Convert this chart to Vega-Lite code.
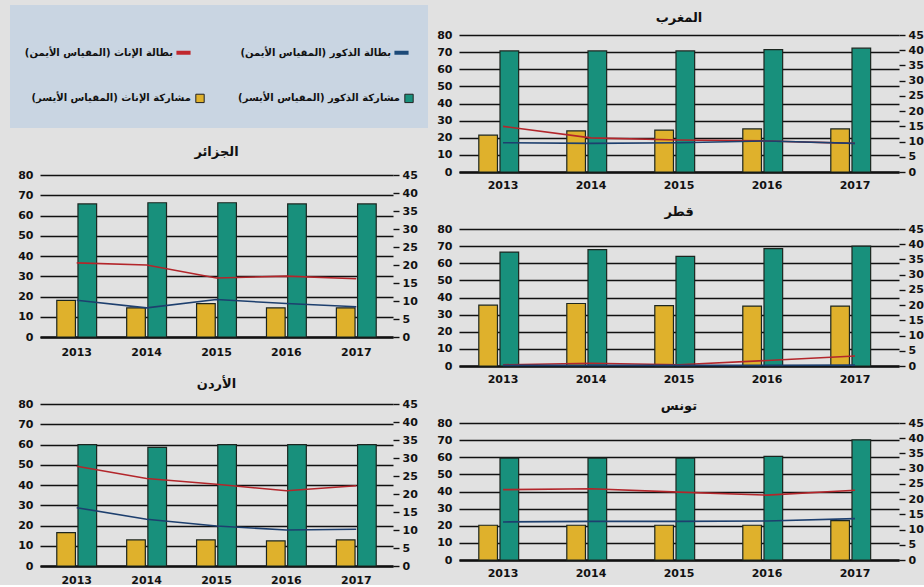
{
  "$schema": "https://vega.github.io/schema/vega-lite/v6.json",
  "background": "#e1e1e1",
  "padding": {"left": 10, "top": 5, "right": 4, "bottom": 0},
  "data": {"values": [
    {"country": "المغرب", "year": "2013", "مشاركة الإناث (المقياس الأيسر)": 21.5, "مشاركة الذكور (المقياس الأيسر)": 70.7, "بطالة الإناث (المقياس الأيمن)": 15.0, "بطالة الذكور (المقياس الأيمن)": 9.6},
    {"country": "المغرب", "year": "2014", "مشاركة الإناث (المقياس الأيسر)": 24.0, "مشاركة الذكور (المقياس الأيسر)": 70.7, "بطالة الإناث (المقياس الأيمن)": 11.2, "بطالة الذكور (المقياس الأيمن)": 9.4},
    {"country": "المغرب", "year": "2015", "مشاركة الإناث (المقياس الأيسر)": 24.5, "مشاركة الذكور (المقياس الأيسر)": 70.7, "بطالة الإناث (المقياس الأيمن)": 10.5, "بطالة الذكور (المقياس الأيمن)": 9.6},
    {"country": "المغرب", "year": "2016", "مشاركة الإناث (المقياس الأيسر)": 25.2, "مشاركة الذكور (المقياس الأيسر)": 71.5, "بطالة الإناث (المقياس الأيمن)": 10.2, "بطالة الذكور (المقياس الأيمن)": 10.2},
    {"country": "المغرب", "year": "2017", "مشاركة الإناث (المقياس الأيسر)": 25.2, "مشاركة الذكور (المقياس الأيسر)": 72.3, "بطالة الإناث (المقياس الأيمن)": 9.4, "بطالة الذكور (المقياس الأيمن)": 9.4},
    {"country": "قطر", "year": "2013", "مشاركة الإناث (المقياس الأيسر)": 35.5, "مشاركة الذكور (المقياس الأيسر)": 66.5, "بطالة الإناث (المقياس الأيمن)": 0.4, "بطالة الذكور (المقياس الأيمن)": 0.2},
    {"country": "قطر", "year": "2014", "مشاركة الإناث (المقياس الأيسر)": 36.5, "مشاركة الذكور (المقياس الأيسر)": 68.0, "بطالة الإناث (المقياس الأيمن)": 0.9, "بطالة الذكور (المقياس الأيمن)": 0.2},
    {"country": "قطر", "year": "2015", "مشاركة الإناث (المقياس الأيسر)": 35.2, "مشاركة الذكور (المقياس الأيسر)": 64.0, "بطالة الإناث (المقياس الأيمن)": 0.4, "بطالة الذكور (المقياس الأيمن)": 0.2},
    {"country": "قطر", "year": "2016", "مشاركة الإناث (المقياس الأيسر)": 35.0, "مشاركة الذكور (المقياس الأيسر)": 68.5, "بطالة الإناث (المقياس الأيمن)": 1.8, "بطالة الذكور (المقياس الأيمن)": 0.2},
    {"country": "قطر", "year": "2017", "مشاركة الإناث (المقياس الأيسر)": 35.0, "مشاركة الذكور (المقياس الأيسر)": 70.0, "بطالة الإناث (المقياس الأيمن)": 3.3, "بطالة الذكور (المقياس الأيمن)": 0.3},
    {"country": "تونس", "year": "2013", "مشاركة الإناث (المقياس الأيسر)": 20.3, "مشاركة الذكور (المقياس الأيسر)": 59.5, "بطالة الإناث (المقياس الأيمن)": 23.1, "بطالة الذكور (المقياس الأيمن)": 12.5},
    {"country": "تونس", "year": "2014", "مشاركة الإناث (المقياس الأيسر)": 20.3, "مشاركة الذكور (المقياس الأيسر)": 59.5, "بطالة الإناث (المقياس الأيمن)": 23.4, "بطالة الذكور (المقياس الأيمن)": 12.7},
    {"country": "تونس", "year": "2015", "مشاركة الإناث (المقياس الأيسر)": 20.3, "مشاركة الذكور (المقياس الأيسر)": 59.5, "بطالة الإناث (المقياس الأيمن)": 22.3, "بطالة الذكور (المقياس الأيمن)": 12.7},
    {"country": "تونس", "year": "2016", "مشاركة الإناث (المقياس الأيسر)": 20.3, "مشاركة الذكور (المقياس الأيسر)": 60.5, "بطالة الإناث (المقياس الأيمن)": 21.3, "بطالة الذكور (المقياس الأيمن)": 12.8},
    {"country": "تونس", "year": "2017", "مشاركة الإناث (المقياس الأيسر)": 23.0, "مشاركة الذكور (المقياس الأيسر)": 70.2, "بطالة الإناث (المقياس الأيمن)": 22.9, "بطالة الذكور (المقياس الأيمن)": 13.6},
    {"country": "الجزائر", "year": "2013", "مشاركة الإناث (المقياس الأيسر)": 18.1, "مشاركة الذكور (المقياس الأيسر)": 65.7, "بطالة الإناث (المقياس الأيمن)": 20.6, "بطالة الذكور (المقياس الأيمن)": 10.2},
    {"country": "الجزائر", "year": "2014", "مشاركة الإناث (المقياس الأيسر)": 14.4, "مشاركة الذكور (المقياس الأيسر)": 66.3, "بطالة الإناث (المقياس الأيمن)": 20.0, "بطالة الذكور (المقياس الأيمن)": 8.1},
    {"country": "الجزائر", "year": "2015", "مشاركة الإناث (المقياس الأيسر)": 16.5, "مشاركة الذكور (المقياس الأيسر)": 66.3, "بطالة الإناث (المقياس الأيمن)": 16.4, "بطالة الذكور (المقياس الأيمن)": 10.4},
    {"country": "الجزائر", "year": "2016", "مشاركة الإناث (المقياس الأيسر)": 14.4, "مشاركة الذكور (المقياس الأيسر)": 65.7, "بطالة الإناث (المقياس الأيمن)": 16.9, "بطالة الذكور (المقياس الأيمن)": 9.3},
    {"country": "الجزائر", "year": "2017", "مشاركة الإناث (المقياس الأيسر)": 14.4, "مشاركة الذكور (المقياس الأيسر)": 65.7, "بطالة الإناث (المقياس الأيمن)": 16.2, "بطالة الذكور (المقياس الأيمن)": 8.4},
    {"country": "الأردن", "year": "2013", "مشاركة الإناث (المقياس الأيسر)": 16.5, "مشاركة الذكور (المقياس الأيسر)": 59.9, "بطالة الإناث (المقياس الأيمن)": 27.7, "بطالة الذكور (المقياس الأيمن)": 16.2},
    {"country": "الأردن", "year": "2014", "مشاركة الإناث (المقياس الأيسر)": 12.9, "مشاركة الذكور (المقياس الأيسر)": 58.6, "بطالة الإناث (المقياس الأيمن)": 24.3, "بطالة الذكور (المقياس الأيمن)": 13.0},
    {"country": "الأردن", "year": "2015", "مشاركة الإناث (المقياس الأيسر)": 12.9, "مشاركة الذكور (المقياس الأيسر)": 59.9, "بطالة الإناث (المقياس الأيمن)": 22.7, "بطالة الذكور (المقياس الأيمن)": 11.1},
    {"country": "الأردن", "year": "2016", "مشاركة الإناث (المقياس الأيسر)": 12.4, "مشاركة الذكور (المقياس الأيسر)": 59.9, "بطالة الإناث (المقياس الأيمن)": 20.9, "بطالة الذكور (المقياس الأيمن)": 10.0},
    {"country": "الأردن", "year": "2017", "مشاركة الإناث (المقياس الأيسر)": 12.9, "مشاركة الذكور (المقياس الأيسر)": 59.9, "بطالة الإناث (المقياس الأيمن)": 22.3, "بطالة الذكور (المقياس الأيمن)": 10.2}
  ]},
  "transform": [{"fold": ["مشاركة الإناث (المقياس الأيسر)", "مشاركة الذكور (المقياس الأيسر)", "بطالة الإناث (المقياس الأيمن)", "بطالة الذكور (المقياس الأيمن)"], "as": ["series", "value"]}],
  "spacing": -11,
  "resolve": {"scale": {"fill": "independent", "stroke": "independent"}, "legend": {"fill": "independent", "stroke": "independent"}},
  "hconcat": [
    {
      "spacing": 11,
      "resolve": {"scale": {"fill": "independent", "stroke": "independent"}, "legend": {"fill": "independent", "stroke": "independent"}},
      "vconcat": [
        {
          "width": 358, "height": 63,
          "view": {"fill": "#c9d5e2", "stroke": "#c9d5e2", "strokeWidth": 60},
          "layer": [
            {
              "transform": [{"filter": {"field": "series", "oneOf": ["بطالة الإناث (المقياس الأيمن)", "بطالة الذكور (المقياس الأيمن)"]}}],
              "mark": {"type": "point", "opacity": 0},
              "encoding": {
                "stroke": {"field": "series", "type": "nominal",
                  "scale": {"domain": ["بطالة الإناث (المقياس الأيمن)", "بطالة الذكور (المقياس الأيمن)"], "range": ["#c0272d", "#1d4a78"]},
                  "legend": {"title": null, "orient": "none", "legendX": 134, "legendY": 8, "direction": "horizontal", "columns": 2, "columnPadding": 41,
                    "symbolType": "stroke", "symbolSize": 200, "symbolStrokeWidth": 4, "symbolOpacity": 1,
                    "labelAlign": "right", "labelOffset": -20, "labelFont": "DejaVu Sans", "labelFontSize": 10, "labelFontWeight": "bold", "labelColor": "#111", "labelLimit": 300,
                    "labelExpr": "datum.label + '\u200f'"}
                }
              }
            },
            {
              "transform": [{"filter": {"field": "series", "oneOf": ["مشاركة الإناث (المقياس الأيسر)", "مشاركة الذكور (المقياس الأيسر)"]}}],
              "mark": {"type": "point", "opacity": 0, "filled": true},
              "encoding": {
                "fill": {"field": "series", "type": "nominal",
                  "scale": {"domain": ["مشاركة الإناث (المقياس الأيسر)", "مشاركة الذكور (المقياس الأيسر)"], "range": ["#dfb12c", "#18907c"]},
                  "legend": {"title": null, "orient": "none", "legendX": 155, "legendY": 58, "direction": "horizontal", "columns": 2, "columnPadding": 31,
                    "symbolType": "square", "symbolSize": 70, "symbolStrokeColor": "#222", "symbolStrokeWidth": 1, "symbolOpacity": 1,
                    "labelAlign": "right", "labelOffset": -14, "labelFont": "DejaVu Sans", "labelFontSize": 10, "labelFontWeight": "bold", "labelColor": "#111", "labelLimit": 300,
                    "labelExpr": "datum.label + '\u200f'"}
                }
              }
            }
          ]
        },
        {
          "width": 353, "height": 162,
          "title": {"text": "الجزائر", "offset": 10},
          "transform": [{"filter": {"field": "country", "equal": "الجزائر"}}],
          "layer": [
            {
              "transform": [{"filter": {"field": "series", "oneOf": ["مشاركة الإناث (المقياس الأيسر)", "مشاركة الذكور (المقياس الأيسر)"]}}],
              "mark": {"type": "bar", "stroke": "#1c2620", "strokeWidth": 1.2},
              "encoding": {
                "x": {"field": "year", "type": "ordinal", "scale": {"paddingInner": 0.43, "paddingOuter": 0.24}, "axis": {"title": null, "labelAngle": 0, "ticks": false, "domain": true, "domainColor": "#111", "domainWidth": 2.5, "labelPadding": 9, "grid": false, "minExtent": 30}},
                "xOffset": {"field": "series", "type": "nominal", "scale": {"domain": ["مشاركة الإناث (المقياس الأيسر)", "مشاركة الذكور (المقياس الأيسر)"], "paddingInner": 0.12}},
                "y": {"field": "value", "type": "quantitative", "scale": {"domain": [0, 80]}, "axis": {"title": null, "values": [0, 10, 20, 30, 40, 50, 60, 70, 80], "grid": true, "gridColor": "#111", "gridWidth": 1.4, "domain": false, "ticks": false, "labelPadding": 7}},
                "fill": {"field": "series", "type": "nominal", "scale": {"domain": ["مشاركة الإناث (المقياس الأيسر)", "مشاركة الذكور (المقياس الأيسر)"], "range": ["#dfb12c", "#18907c"]}, "legend": null}
              }
            },
            {
              "transform": [{"filter": {"field": "series", "oneOf": ["بطالة الإناث (المقياس الأيمن)", "بطالة الذكور (المقياس الأيمن)"]}}],
              "mark": {"type": "line", "strokeWidth": 1.6},
              "encoding": {
                "x": {"field": "year", "type": "ordinal"},
                "y": {"field": "value", "type": "quantitative", "scale": {"domain": [0, 45]}, "axis": {"title": null, "orient": "right", "values": [0, 5, 10, 15, 20, 25, 30, 35, 40, 45], "grid": false, "domain": false, "ticks": true, "tickSize": 6, "tickColor": "#111", "tickWidth": 1.4, "labelPadding": 3}},
                "stroke": {"field": "series", "type": "nominal", "scale": {"domain": ["بطالة الإناث (المقياس الأيمن)", "بطالة الذكور (المقياس الأيمن)"], "range": ["#b3262b", "#1d3f6e"]}, "legend": null}
              }
            }
          ],
          "resolve": {"scale": {"y": "independent"}}
        },
        {
          "width": 353, "height": 162,
          "title": {"text": "الأردن", "offset": 7},
          "transform": [{"filter": {"field": "country", "equal": "الأردن"}}],
          "layer": [
            {
              "transform": [{"filter": {"field": "series", "oneOf": ["مشاركة الإناث (المقياس الأيسر)", "مشاركة الذكور (المقياس الأيسر)"]}}],
              "mark": {"type": "bar", "stroke": "#1c2620", "strokeWidth": 1.2},
              "encoding": {
                "x": {"field": "year", "type": "ordinal", "scale": {"paddingInner": 0.43, "paddingOuter": 0.24}, "axis": {"title": null, "labelAngle": 0, "ticks": false, "domain": true, "domainColor": "#111", "domainWidth": 2.5, "labelPadding": 8, "grid": false}},
                "xOffset": {"field": "series", "type": "nominal", "scale": {"domain": ["مشاركة الإناث (المقياس الأيسر)", "مشاركة الذكور (المقياس الأيسر)"], "paddingInner": 0.12}},
                "y": {"field": "value", "type": "quantitative", "scale": {"domain": [0, 80]}, "axis": {"title": null, "values": [0, 10, 20, 30, 40, 50, 60, 70, 80], "grid": true, "gridColor": "#111", "gridWidth": 1.4, "domain": false, "ticks": false, "labelPadding": 7}},
                "fill": {"field": "series", "type": "nominal", "scale": {"domain": ["مشاركة الإناث (المقياس الأيسر)", "مشاركة الذكور (المقياس الأيسر)"], "range": ["#dfb12c", "#18907c"]}, "legend": null}
              }
            },
            {
              "transform": [{"filter": {"field": "series", "oneOf": ["بطالة الإناث (المقياس الأيمن)", "بطالة الذكور (المقياس الأيمن)"]}}],
              "mark": {"type": "line", "strokeWidth": 1.6},
              "encoding": {
                "x": {"field": "year", "type": "ordinal"},
                "y": {"field": "value", "type": "quantitative", "scale": {"domain": [0, 45]}, "axis": {"title": null, "orient": "right", "values": [0, 5, 10, 15, 20, 25, 30, 35, 40, 45], "grid": false, "domain": false, "ticks": true, "tickSize": 6, "tickColor": "#111", "tickWidth": 1.4, "labelPadding": 3}},
                "stroke": {"field": "series", "type": "nominal", "scale": {"domain": ["بطالة الإناث (المقياس الأيمن)", "بطالة الذكور (المقياس الأيمن)"], "range": ["#b3262b", "#1d3f6e"]}, "legend": null}
              }
            }
          ],
          "resolve": {"scale": {"y": "independent"}}
        }
      ]
    },
    {
      "spacing": 16,
      "resolve": {"scale": {"fill": "independent", "stroke": "independent"}, "legend": {"fill": "independent", "stroke": "independent"}},
      "vconcat": [
        {
          "width": 440, "height": 137,
          "title": {"text": "المغرب", "offset": 4},
          "transform": [{"filter": {"field": "country", "equal": "المغرب"}}],
          "layer": [
            {
              "transform": [{"filter": {"field": "series", "oneOf": ["مشاركة الإناث (المقياس الأيسر)", "مشاركة الذكور (المقياس الأيسر)"]}}],
              "mark": {"type": "bar", "stroke": "#1c2620", "strokeWidth": 1.2},
              "encoding": {
                "x": {"field": "year", "type": "ordinal", "scale": {"paddingInner": 0.45, "paddingOuter": 0.225}, "axis": {"title": null, "labelAngle": 0, "ticks": false, "domain": true, "domainColor": "#111", "domainWidth": 2.5, "labelPadding": 7, "grid": false}},
                "xOffset": {"field": "series", "type": "nominal", "scale": {"domain": ["مشاركة الإناث (المقياس الأيسر)", "مشاركة الذكور (المقياس الأيسر)"], "paddingInner": 0.12}},
                "y": {"field": "value", "type": "quantitative", "scale": {"domain": [0, 80]}, "axis": {"title": null, "values": [0, 10, 20, 30, 40, 50, 60, 70, 80], "grid": true, "gridColor": "#111", "gridWidth": 1.4, "domain": false, "ticks": false, "labelPadding": 7}},
                "fill": {"field": "series", "type": "nominal", "scale": {"domain": ["مشاركة الإناث (المقياس الأيسر)", "مشاركة الذكور (المقياس الأيسر)"], "range": ["#dfb12c", "#18907c"]}, "legend": null}
              }
            },
            {
              "transform": [{"filter": {"field": "series", "oneOf": ["بطالة الإناث (المقياس الأيمن)", "بطالة الذكور (المقياس الأيمن)"]}}],
              "mark": {"type": "line", "strokeWidth": 1.6},
              "encoding": {
                "x": {"field": "year", "type": "ordinal"},
                "y": {"field": "value", "type": "quantitative", "scale": {"domain": [0, 45]}, "axis": {"title": null, "orient": "right", "values": [0, 5, 10, 15, 20, 25, 30, 35, 40, 45], "grid": false, "domain": false, "ticks": true, "tickSize": 6, "tickColor": "#111", "tickWidth": 1.4, "labelPadding": 3}},
                "stroke": {"field": "series", "type": "nominal", "scale": {"domain": ["بطالة الإناث (المقياس الأيمن)", "بطالة الذكور (المقياس الأيمن)"], "range": ["#b3262b", "#1d3f6e"]}, "legend": null}
              }
            }
          ],
          "resolve": {"scale": {"y": "independent"}}
        },
        {
          "width": 440, "height": 137,
          "title": {"text": "قطر", "offset": 4},
          "transform": [{"filter": {"field": "country", "equal": "قطر"}}],
          "layer": [
            {
              "transform": [{"filter": {"field": "series", "oneOf": ["مشاركة الإناث (المقياس الأيسر)", "مشاركة الذكور (المقياس الأيسر)"]}}],
              "mark": {"type": "bar", "stroke": "#1c2620", "strokeWidth": 1.2},
              "encoding": {
                "x": {"field": "year", "type": "ordinal", "scale": {"paddingInner": 0.45, "paddingOuter": 0.225}, "axis": {"title": null, "labelAngle": 0, "ticks": false, "domain": true, "domainColor": "#111", "domainWidth": 2.5, "labelPadding": 7, "grid": false}},
                "xOffset": {"field": "series", "type": "nominal", "scale": {"domain": ["مشاركة الإناث (المقياس الأيسر)", "مشاركة الذكور (المقياس الأيسر)"], "paddingInner": 0.12}},
                "y": {"field": "value", "type": "quantitative", "scale": {"domain": [0, 80]}, "axis": {"title": null, "values": [0, 10, 20, 30, 40, 50, 60, 70, 80], "grid": true, "gridColor": "#111", "gridWidth": 1.4, "domain": false, "ticks": false, "labelPadding": 7}},
                "fill": {"field": "series", "type": "nominal", "scale": {"domain": ["مشاركة الإناث (المقياس الأيسر)", "مشاركة الذكور (المقياس الأيسر)"], "range": ["#dfb12c", "#18907c"]}, "legend": null}
              }
            },
            {
              "transform": [{"filter": {"field": "series", "oneOf": ["بطالة الإناث (المقياس الأيمن)", "بطالة الذكور (المقياس الأيمن)"]}}],
              "mark": {"type": "line", "strokeWidth": 1.6},
              "encoding": {
                "x": {"field": "year", "type": "ordinal"},
                "y": {"field": "value", "type": "quantitative", "scale": {"domain": [0, 45]}, "axis": {"title": null, "orient": "right", "values": [0, 5, 10, 15, 20, 25, 30, 35, 40, 45], "grid": false, "domain": false, "ticks": true, "tickSize": 6, "tickColor": "#111", "tickWidth": 1.4, "labelPadding": 3}},
                "stroke": {"field": "series", "type": "nominal", "scale": {"domain": ["بطالة الإناث (المقياس الأيمن)", "بطالة الذكور (المقياس الأيمن)"], "range": ["#b3262b", "#1d3f6e"]}, "legend": null}
              }
            }
          ],
          "resolve": {"scale": {"y": "independent"}}
        },
        {
          "width": 440, "height": 137,
          "title": {"text": "تونس", "offset": 4},
          "transform": [{"filter": {"field": "country", "equal": "تونس"}}],
          "layer": [
            {
              "transform": [{"filter": {"field": "series", "oneOf": ["مشاركة الإناث (المقياس الأيسر)", "مشاركة الذكور (المقياس الأيسر)"]}}],
              "mark": {"type": "bar", "stroke": "#1c2620", "strokeWidth": 1.2},
              "encoding": {
                "x": {"field": "year", "type": "ordinal", "scale": {"paddingInner": 0.45, "paddingOuter": 0.225}, "axis": {"title": null, "labelAngle": 0, "ticks": false, "domain": true, "domainColor": "#111", "domainWidth": 2.5, "labelPadding": 7, "grid": false}},
                "xOffset": {"field": "series", "type": "nominal", "scale": {"domain": ["مشاركة الإناث (المقياس الأيسر)", "مشاركة الذكور (المقياس الأيسر)"], "paddingInner": 0.12}},
                "y": {"field": "value", "type": "quantitative", "scale": {"domain": [0, 80]}, "axis": {"title": null, "values": [0, 10, 20, 30, 40, 50, 60, 70, 80], "grid": true, "gridColor": "#111", "gridWidth": 1.4, "domain": false, "ticks": false, "labelPadding": 7}},
                "fill": {"field": "series", "type": "nominal", "scale": {"domain": ["مشاركة الإناث (المقياس الأيسر)", "مشاركة الذكور (المقياس الأيسر)"], "range": ["#dfb12c", "#18907c"]}, "legend": null}
              }
            },
            {
              "transform": [{"filter": {"field": "series", "oneOf": ["بطالة الإناث (المقياس الأيمن)", "بطالة الذكور (المقياس الأيمن)"]}}],
              "mark": {"type": "line", "strokeWidth": 1.6},
              "encoding": {
                "x": {"field": "year", "type": "ordinal"},
                "y": {"field": "value", "type": "quantitative", "scale": {"domain": [0, 45]}, "axis": {"title": null, "orient": "right", "values": [0, 5, 10, 15, 20, 25, 30, 35, 40, 45], "grid": false, "domain": false, "ticks": true, "tickSize": 6, "tickColor": "#111", "tickWidth": 1.4, "labelPadding": 3}},
                "stroke": {"field": "series", "type": "nominal", "scale": {"domain": ["بطالة الإناث (المقياس الأيمن)", "بطالة الذكور (المقياس الأيمن)"], "range": ["#b3262b", "#1d3f6e"]}, "legend": null}
              }
            }
          ],
          "resolve": {"scale": {"y": "independent"}}
        }
      ]
    }
  ],
  "config": {
    "font": "DejaVu Sans",
    "view": {"stroke": null},
    "title": {"fontSize": 13, "fontWeight": "bold", "color": "#111", "font": "DejaVu Sans"},
    "axis": {"labelFont": "DejaVu Sans", "labelFontSize": 11, "labelFontWeight": "bold", "labelColor": "#111"}
  }
}
